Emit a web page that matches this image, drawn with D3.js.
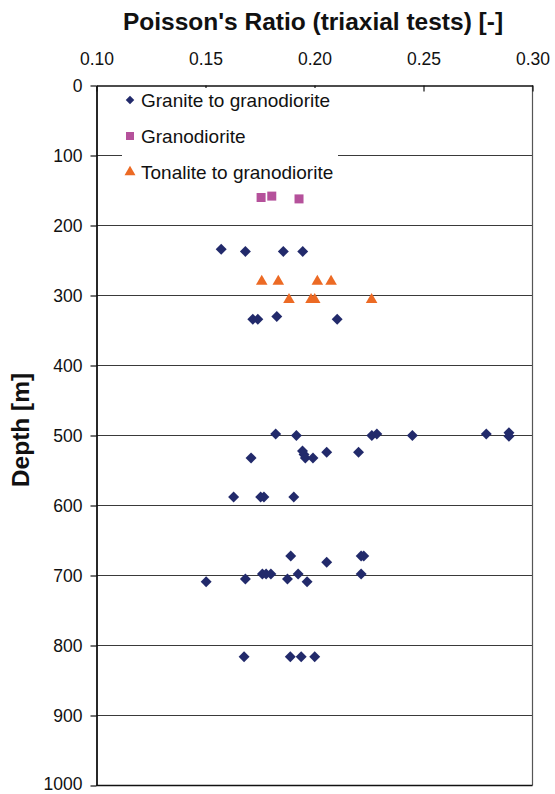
<!DOCTYPE html>
<html>
<head>
<meta charset="utf-8">
<script src="https://cdn.jsdelivr.net/npm/d3@7"></script>
<style>
  html, body { margin: 0; padding: 0; background: #fff; }
  svg { display: block; font-family: "Liberation Sans", Arial, Helvetica, sans-serif; }
</style>
</head>
<body>
<svg id="chart" width="555" height="794"></svg>
<script>
// Poisson's ratio from triaxial tests vs. sample depth, by rock type
const graniteRatio = [0.1572, 0.1683, 0.1857, 0.1946,
  0.1717, 0.1740, 0.1827, 0.2104,
  0.1822, 0.1917, 0.2263, 0.2286, 0.2449, 0.2788, 0.2892, 0.2892,
  0.1709, 0.1945, 0.1952, 0.1958, 0.1993, 0.2056, 0.2202,
  0.1629, 0.1753, 0.1768, 0.1905,
  0.1891, 0.2214, 0.2226, 0.2056,
  0.1503, 0.1683, 0.1761, 0.1778, 0.1800, 0.1876, 0.1925, 0.1966, 0.2214,
  0.1677, 0.1889, 0.1939, 0.2001];
const graniteDepth = [234, 237, 237, 237,
  334, 334, 330, 334,
  498, 500, 500, 498, 500, 498, 496, 501,
  532, 522, 527, 532, 532, 524, 524,
  588, 588, 588, 588,
  672, 672, 672, 681,
  709, 705, 698, 698, 698, 705, 698, 709, 698,
  816, 816, 816, 816];

const granodioriteRatio = [0.1755, 0.1804, 0.1929];
const granodioriteDepth = [160, 158, 162];

const tonaliteRatio = [0.1758, 0.1834, 0.2013, 0.2076, 0.1883, 0.1984, 0.2001, 0.2262];
const tonaliteDepth = [280, 280, 280, 280, 306, 306, 306, 306];

const xTicks = [0.10, 0.15, 0.20, 0.25, 0.30];
const yTicks = [0, 100, 200, 300, 400, 500, 600, 700, 800, 900, 1000];

const seriesNames = ["Granite to granodiorite", "Granodiorite", "Tonalite to granodiorite"];
const seriesColors = ["#222a6b", "#b5519b", "#ec6a24"];

const svg = d3.select("#chart");
const plot = { left: 96.5, right: 532.5, top: 85.5, bottom: 785.5 };

const x = d3.scaleLinear().domain([0.1, 0.3]).range([plot.left, plot.right]);
const y = d3.scaleLinear().domain([0, 1000]).range([plot.top, plot.bottom]);

// horizontal gridlines
svg.append("g")
  .selectAll("line")
  .data(yTicks.filter(d => d > 0 && d < 1000))
  .join("line")
  .attr("x1", plot.left).attr("x2", plot.right)
  .attr("y1", d => y(d)).attr("y2", d => y(d))
  .attr("stroke", "#3a3a3a").attr("stroke-width", 1.2);

// right and bottom frame
svg.append("line")
  .attr("x1", plot.right).attr("x2", plot.right)
  .attr("y1", plot.top).attr("y2", plot.bottom)
  .attr("stroke", "#555").attr("stroke-width", 1.2);
svg.append("line")
  .attr("x1", plot.left).attr("x2", plot.right)
  .attr("y1", plot.bottom).attr("y2", plot.bottom)
  .attr("stroke", "#111").attr("stroke-width", 1.5);

// top axis with ticks pointing into the plot
const xAxis = svg.append("g")
  .attr("transform", `translate(0,${plot.top})`)
  .call(d3.axisTop(x).tickValues(xTicks).tickFormat(d3.format(".2f"))
    .tickSizeInner(-6).tickSizeOuter(0).tickPadding(21));
xAxis.select(".domain").attr("stroke", "#111").attr("stroke-width", 1.5);
xAxis.selectAll(".tick line").attr("stroke", "#111").attr("stroke-width", 1.2);
xAxis.selectAll("text").attr("font-size", 17.5).attr("fill", "#111").attr("font-family", null);

// left axis with outward ticks
const yAxis = svg.append("g")
  .attr("transform", `translate(${plot.left},0)`)
  .call(d3.axisLeft(y).tickValues(yTicks).tickFormat(d3.format("d"))
    .tickSizeInner(6).tickSizeOuter(0).tickPadding(8));
yAxis.select(".domain").attr("stroke", "#111").attr("stroke-width", 1.8);
yAxis.selectAll(".tick line").attr("stroke", "#111").attr("stroke-width", 1.2);
yAxis.selectAll("text").attr("font-size", 17.5).attr("fill", "#111").attr("font-family", null);
// keep the bottom label inside the page edge
yAxis.selectAll(".tick text").filter(d => d === 1000).attr("dy", "0.2em");

// axis titles
svg.append("text")
  .attr("x", 313).attr("y", 30)
  .attr("text-anchor", "middle")
  .attr("font-size", 24.5).attr("font-weight", "bold").attr("fill", "#111")
  .text("Poisson's Ratio (triaxial tests) [-]");
svg.append("text")
  .attr("transform", "translate(29,430) rotate(-90)")
  .attr("text-anchor", "middle")
  .attr("font-size", 24.5).attr("font-weight", "bold").attr("fill", "#111")
  .text("Depth [m]");

// legend panel
const legend = svg.append("g");
legend.append("rect")
  .attr("x", 122).attr("y", 88).attr("width", 216).attr("height", 100)
  .attr("fill", "#fff");

const symbolFor = [
  d3.symbol().type(d3.symbolSquare).size(60),
  d3.symbol().type(d3.symbolSquare).size(81),
  d3.symbol().type(d3.symbolTriangle).size(58)
];
const rotFor = [45, 0, 0];

const legendRows = [100, 136, 172];
seriesNames.forEach((name, i) => {
  const sym = i === 0 ? d3.symbol().type(d3.symbolSquare).size(36)
            : i === 1 ? d3.symbol().type(d3.symbolSquare).size(64)
            : d3.symbol().type(d3.symbolTriangle).size(52);
  legend.append("path")
    .attr("d", sym())
    .attr("transform", `translate(130,${legendRows[i]}) rotate(${rotFor[i]})`)
    .attr("fill", seriesColors[i]);
  legend.append("text")
    .attr("x", 141).attr("y", legendRows[i]).attr("dy", "0.35em")
    .attr("font-size", 19).attr("fill", "#111")
    .text(name);
});

// data markers
const series = [
  { r: graniteRatio, d: graniteDepth },
  { r: granodioriteRatio, d: granodioriteDepth },
  { r: tonaliteRatio, d: tonaliteDepth }
];
series.forEach((s, i) => {
  svg.append("g")
    .selectAll("path")
    .data(d3.range(s.r.length))
    .join("path")
    .attr("d", symbolFor[i]())
    .attr("transform", k => `translate(${x(s.r[k])},${y(s.d[k])}) rotate(${rotFor[i]})`)
    .attr("fill", seriesColors[i]);
});
</script>
</body>
</html>
